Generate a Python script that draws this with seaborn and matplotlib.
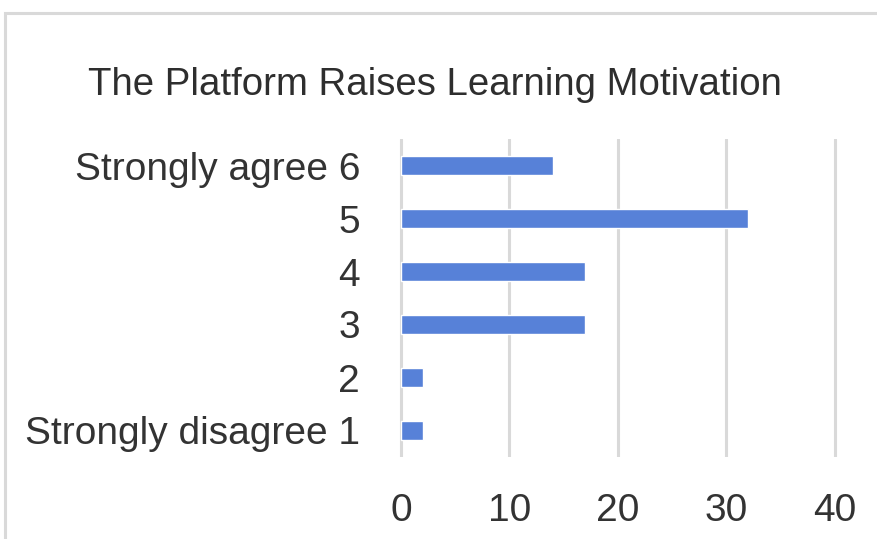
import matplotlib
matplotlib.use("Agg")
import matplotlib.pyplot as plt
import matplotlib.patches as mpatches
import seaborn as sns
import pandas as pd

# Survey responses: "The platform raises learning motivation"
categories = ["Strongly agree 6", "5", "4", "3", "2", "Strongly disagree 1"]
counts = [14, 32, 17, 17, 2, 2]
x_ticks = [0, 10, 20, 30, 40]

df = pd.DataFrame({"level": categories, "count": counts})

sns.set_theme(style="white")
plt.rcParams["font.family"] = ["Liberation Sans", "DejaVu Sans"]

W, H = 878, 539
fig = plt.figure(figsize=(W / 100, H / 100), dpi=100)
fig.patch.set_facecolor("white")

# Axes placed in pixel terms
x0, x40 = 401, 835
pad_units = 0.5
ppu = (x40 - x0) / 40.0
left_px = x0 - pad_units * ppu
right_px = x40 + pad_units * ppu
top_px, bot_px = 139, 457
ax = fig.add_axes([left_px / W, 1 - bot_px / H,
                   (right_px - left_px) / W, (bot_px - top_px) / H])

sns.barplot(data=df, x="count", y="level", order=categories, orient="h",
            color="#5781d8", saturation=1, width=0.36, ax=ax, zorder=3)

ax.set_xlim(-pad_units, 40 + pad_units)
ax.set_xticks(x_ticks)
ax.set_xticklabels([str(t) for t in x_ticks])
ax.grid(axis="x", color="#d9d9d9", linewidth=2.2, zorder=0)
ax.grid(axis="y", visible=False)
for s in ax.spines.values():
    s.set_visible(False)
ax.set_xlabel("")
ax.set_ylabel("")
ax.tick_params(axis="both", length=0, labelsize=28, colors="#333333")
ax.tick_params(axis="y", pad=25.5)
ax.tick_params(axis="x", pad=26)

fig.text(435 / W, 1 - 95 / H, "The Platform Raises Learning Motivation",
         ha="center", va="baseline", fontsize=27.6, color="#2e2e2e")

# Light frame around the chart area (open to the right and bottom)
frame = mpatches.Rectangle((5 / W, -0.1), 1.2, 1 - 13 / H + 0.1,
                           transform=fig.transFigure, fill=False,
                           edgecolor="#d9d9d9", linewidth=2.2)
fig.patches.append(frame)

fig.savefig("out.png", dpi=100, facecolor="white")
